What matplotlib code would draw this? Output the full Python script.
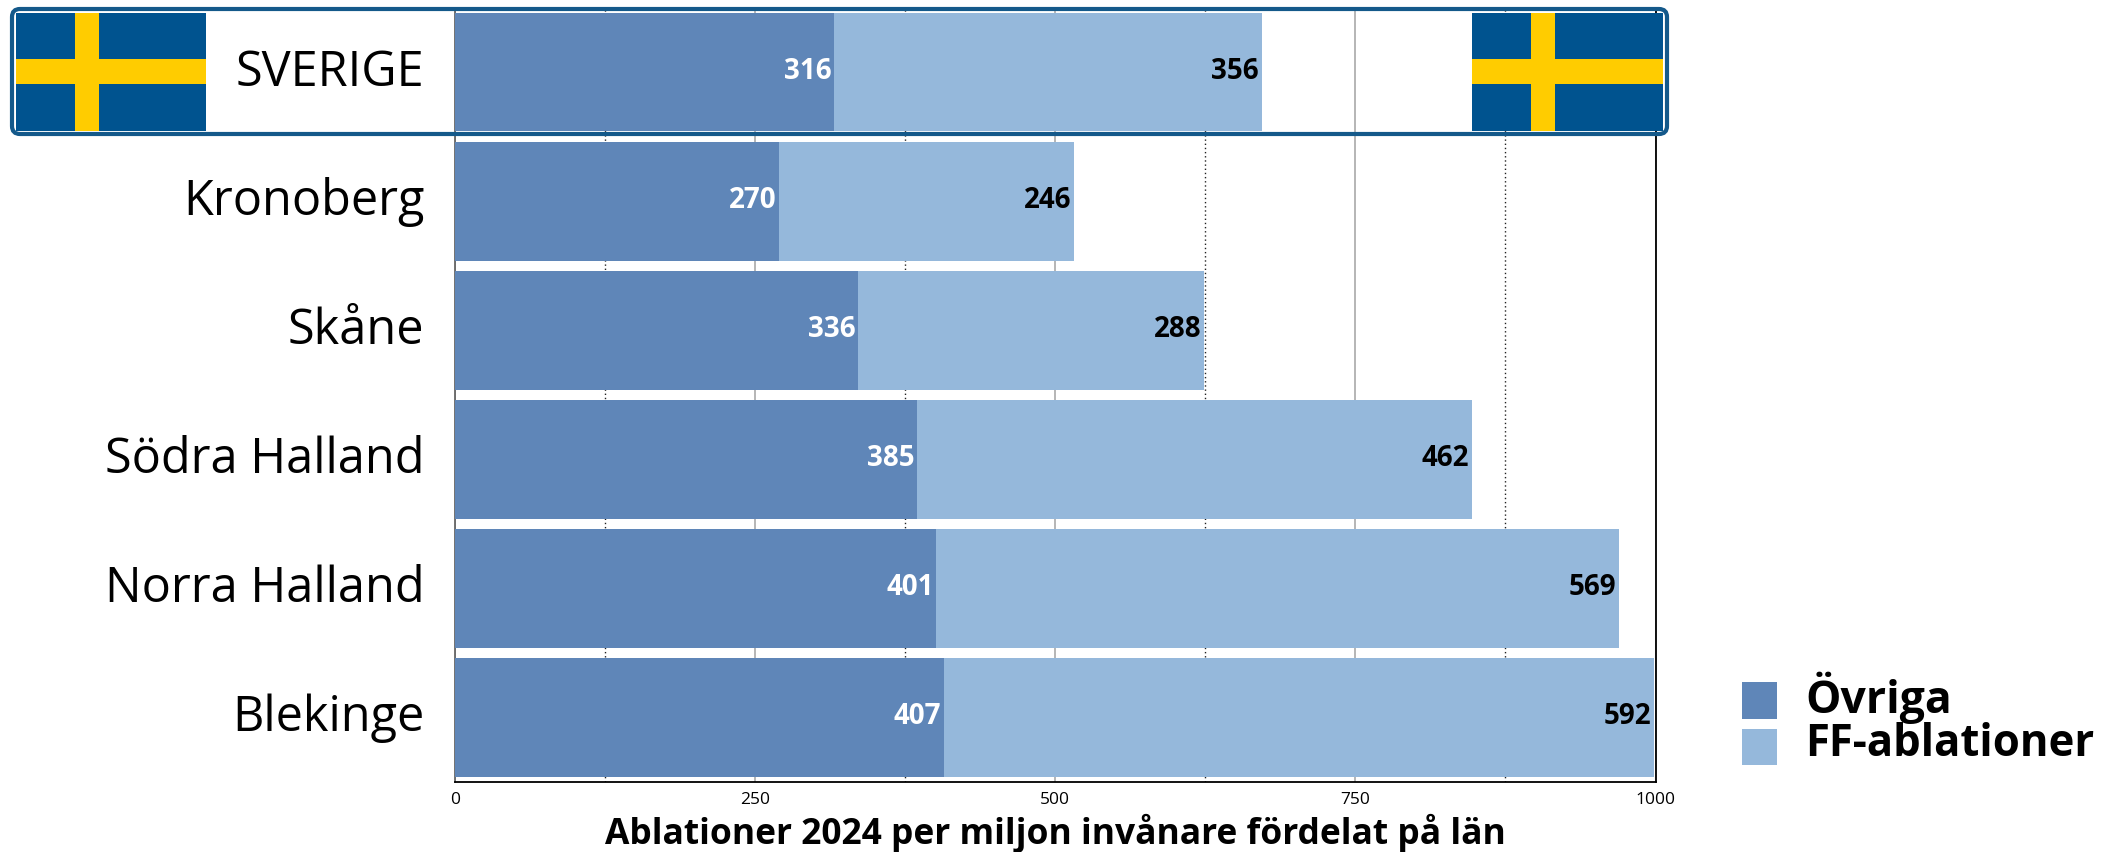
import matplotlib
matplotlib.use("Agg")
import matplotlib.pyplot as plt
from matplotlib.patches import Rectangle, FancyBboxPatch
from matplotlib.transforms import Affine2D, ScaledTranslation

plt.rcParams['font.family'] = ['Open Sans', 'DejaVu Sans']

regions = ["SVERIGE", "Kronoberg", "Skåne", "Södra Halland", "Norra Halland", "Blekinge"]
ovriga = [316, 270, 336, 385, 401, 407]
ff_abl = [356, 246, 288, 462, 569, 592]
major_ticks = [0, 250, 500, 750, 1000]
minor_ticks = [125, 375, 625, 875]

W, H = 2111, 852
c_dark = "#5F86B8"
c_light = "#95B8DB"

fig = plt.figure(figsize=(W / 100, H / 100), dpi=100)
ax = fig.add_axes([455 / W, 1 - 782 / H, (1655.5 - 455) / W, (782 - 7.5) / H])

y = list(range(len(regions)))
ax.barh(y, ovriga, height=0.92, color=c_dark, zorder=3)
ax.barh(y, ff_abl, left=ovriga, height=0.92, color=c_light, zorder=3)

# values sit inside the right end of each segment
for i in y:
    ax.annotate(str(ovriga[i]), (ovriga[i], i), xytext=(-2, 0.5), textcoords="offset points",
                ha="right", va="center", color="white", fontsize=20, fontweight="bold", zorder=5)
    ax.annotate(str(ff_abl[i]), (ovriga[i] + ff_abl[i], i), xytext=(-2, 0.5), textcoords="offset points",
                ha="right", va="center", color="black", fontsize=20, fontweight="bold", zorder=5)

ax.set_xlim(0, 1000)
ax.set_ylim(len(regions) - 0.5, -0.5)
ax.set_yticks(y)
ax.set_yticklabels(regions, fontsize=35)
ax.set_xticks(major_ticks)
ax.set_xticks(minor_ticks, minor=True)
ax.tick_params(axis="y", length=0, pad=22)
ax.tick_params(axis="x", which="both", length=0, labelsize=12.5, pad=7.5)
for lab in ax.get_yticklabels():
    lab.set_transform(lab.get_transform() + ScaledTranslation(0, 3.5 / 72, fig.dpi_scale_trans))
ax.grid(axis="x", which="major", color="#b5b5b5", lw=1.4, zorder=1)
ax.grid(axis="x", which="minor", color="#222222", lw=1, ls=(0, (1, 2)), zorder=1)
ax.set_axisbelow(True)
for side, col in [("left", "#666666"), ("top", "#999999"), ("right", "black"), ("bottom", "black")]:
    ax.spines[side].set_color(col)
    ax.spines[side].set_linewidth(1.3)
ax.set_xlabel("Ablationer 2024 per miljon invånare fördelat på län", fontsize=25.5, fontweight="bold", labelpad=4)

# everything below is placed in image pixels
px = Affine2D().scale(1 / W, -1 / H).translate(0, 1) + fig.transFigure


def add_rect(x0, y0, x1, y1, col, z=6):
    fig.add_artist(Rectangle((x0, y0), x1 - x0, y1 - y0, transform=px, fc=col, ec="none", zorder=z))


def add_flag(x0, x1, y0, y1, cross_x0, cross_x1):
    add_rect(x0, y0, x1, y1, "#00538F")
    add_rect(x0, 59, x1, 84, "#FFCC00", 7)
    add_rect(cross_x0, y0, cross_x1, y1, "#FFCC00", 7)


add_flag(16, 206, 13, 131, 75, 99)
add_flag(1472, 1663, 13, 131, 1531, 1555)

fig.add_artist(FancyBboxPatch((12, 9), 1655, 125, transform=px, boxstyle="round,pad=0,rounding_size=8",
                              fc="none", ec="#14598A", lw=3, zorder=8))

add_rect(1742, 682, 1777, 719, c_dark)
add_rect(1742, 729, 1777, 765, c_light)
fig.text(1805 / W, 1 - 698 / H, "Övriga", fontsize=32, fontweight="bold", va="center", ha="left")
fig.text(1805 / W, 1 - 745 / H, "FF-ablationer", fontsize=31.5, fontweight="bold", va="center", ha="left")

fig.savefig("out.png", dpi=100)
